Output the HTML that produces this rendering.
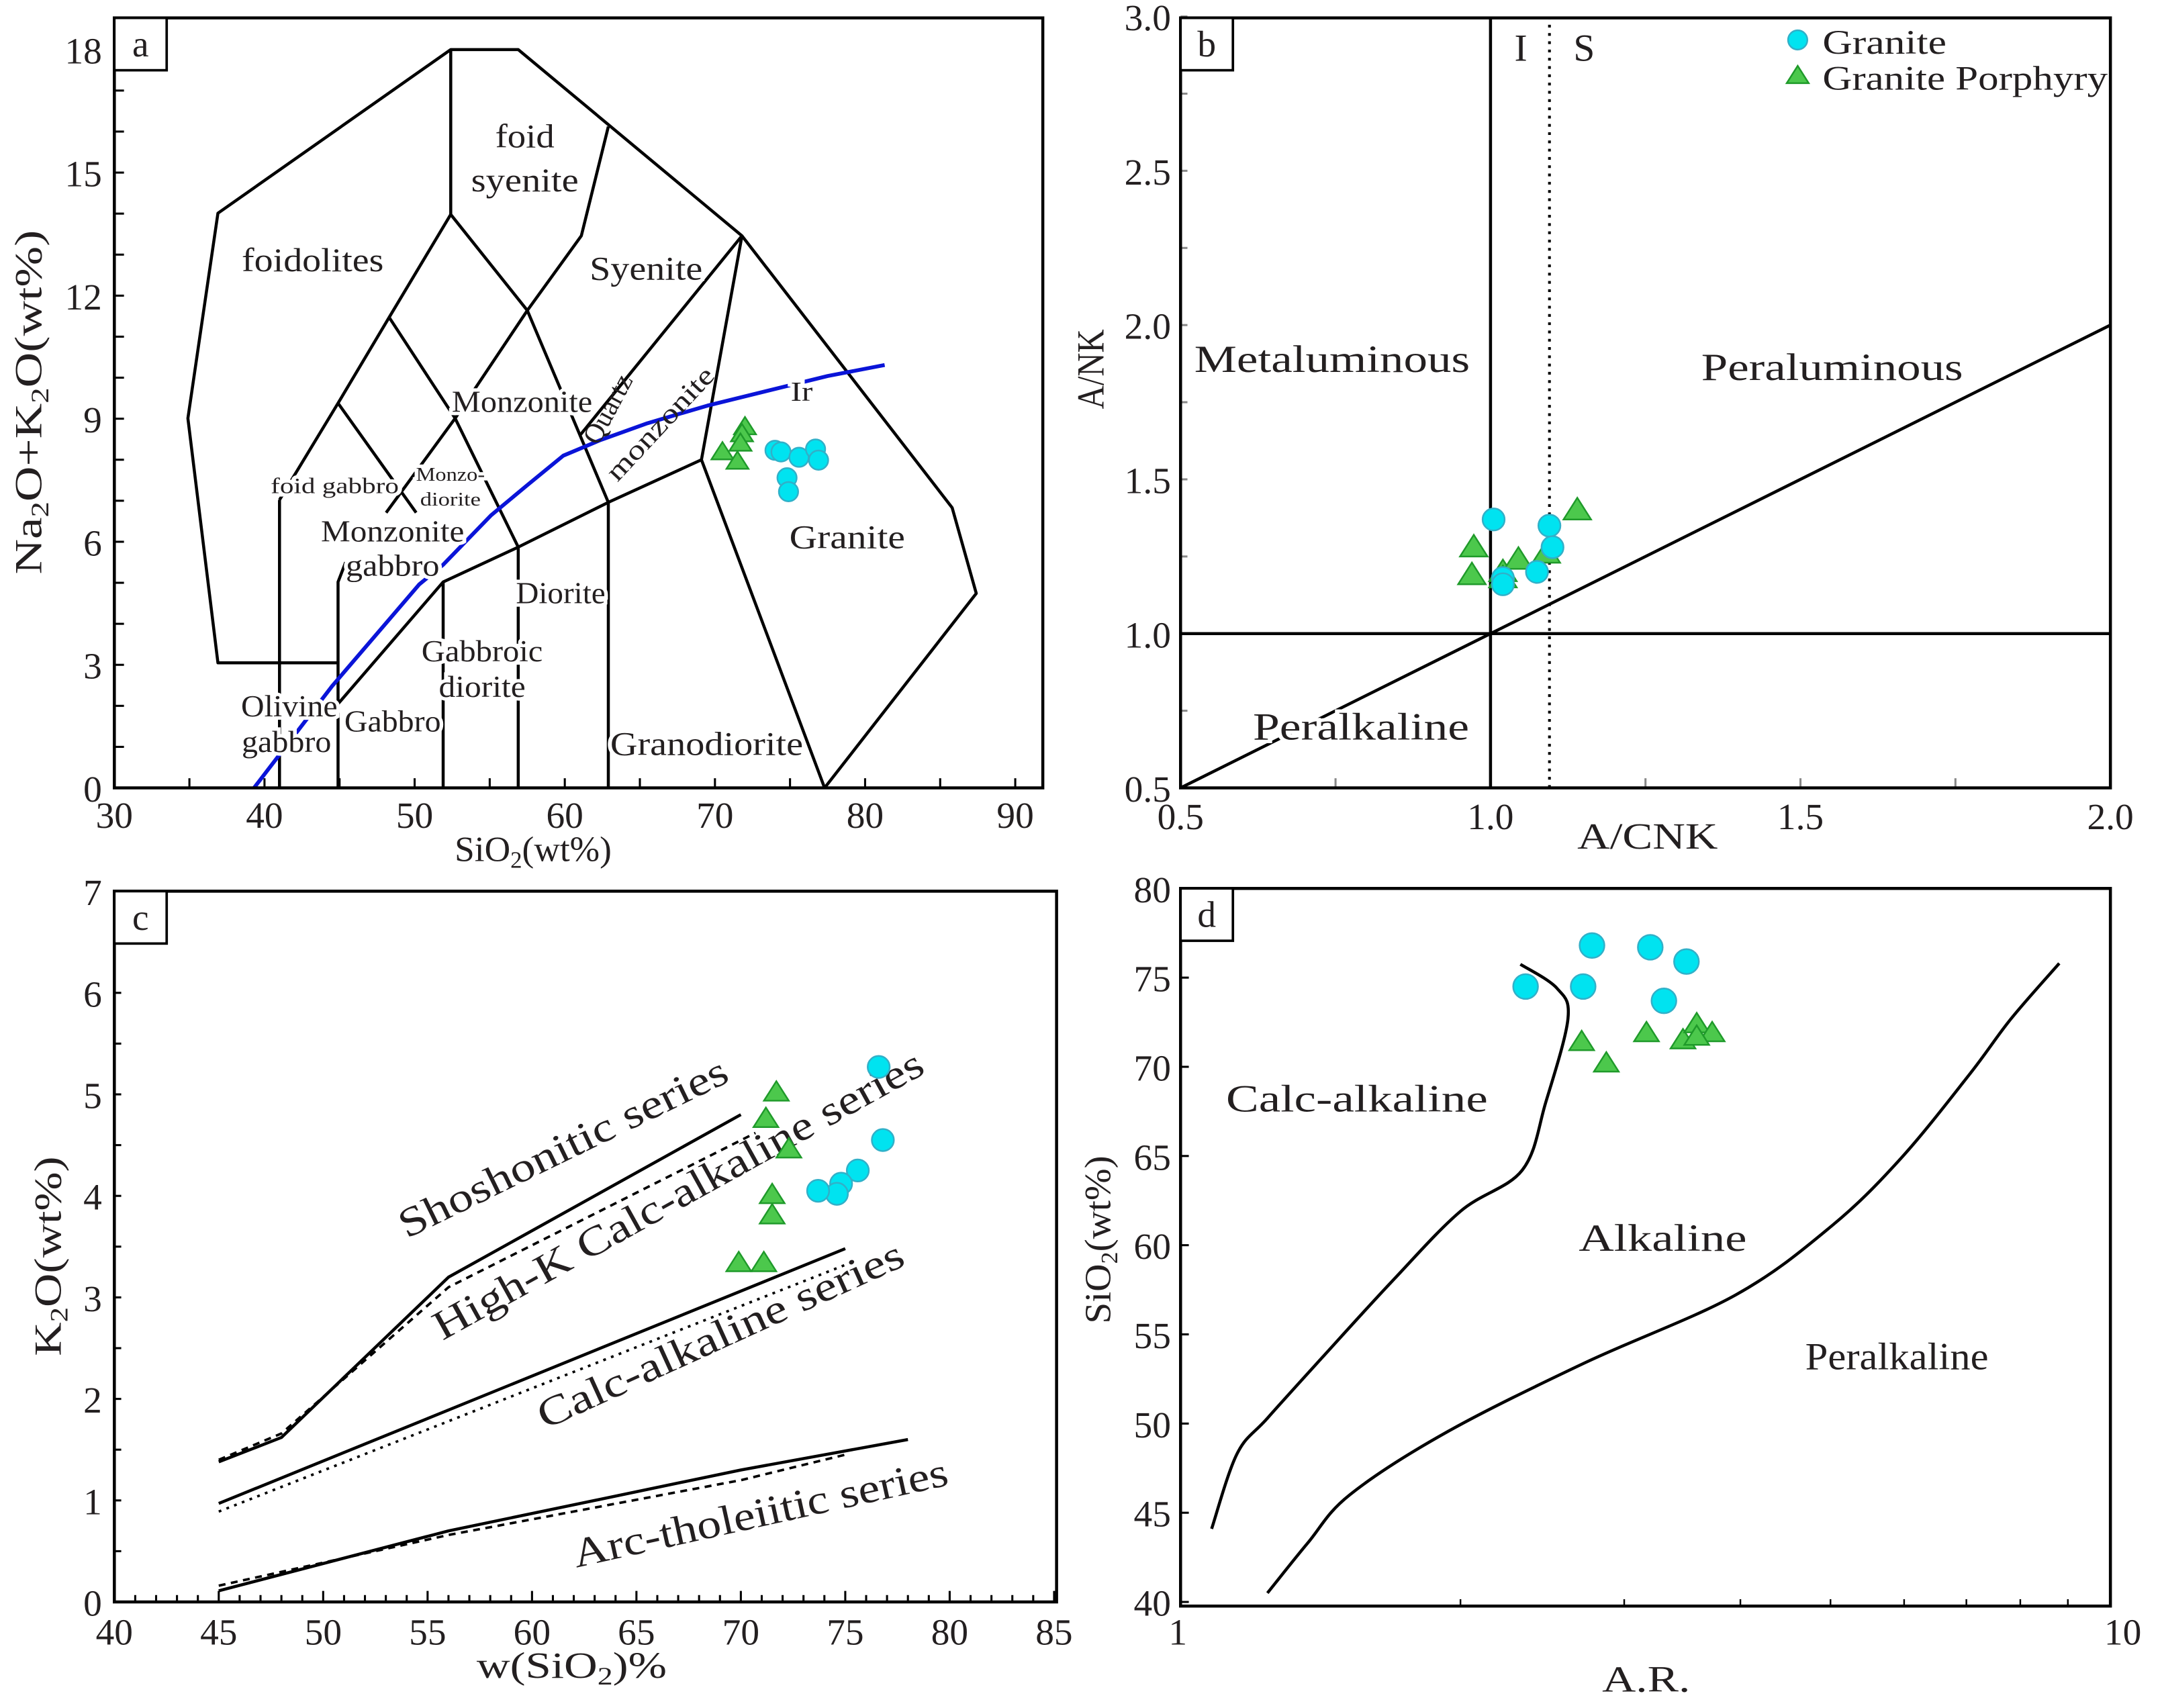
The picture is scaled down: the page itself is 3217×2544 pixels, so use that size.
<!DOCTYPE html>
<html><head><meta charset="utf-8"><title>Geochemical diagrams</title>
<style>
html,body{margin:0;padding:0;background:#fff;}
svg{display:block;}
text{font-family:"Liberation Serif",serif;fill:#231f20;}
</style></head>
<body>
<svg id="fig" xmlns="http://www.w3.org/2000/svg" width="3217" height="2544" viewBox="0 0 1568 1240" preserveAspectRatio="none">
<rect width="1568" height="1240" fill="#fff"/>
</svg>
<script>
// ---------- DATA ----------
// Panel a (TAS): SiO2 vs Na2O+K2O
const aGraniteSi = [74.0, 74.4, 75.6, 76.7, 76.9, 74.8, 74.9];
const aGraniteAlk = [8.23, 8.19, 8.06, 8.26, 7.99, 7.56, 7.22];
const aPorphSi = [72.0, 71.8, 71.7, 70.5, 71.5];
const aPorphAlk = [8.8, 8.63, 8.4, 8.19, 7.96];
const aXTicks = [30, 40, 50, 60, 70, 80, 90];
const aYTicks = [0, 3, 6, 9, 12, 15, 18];
// Panel b: A/CNK vs A/NK
const bGraniteACNK = [1.005, 1.095, 1.10, 1.075, 1.02, 1.02];
const bGraniteANK = [1.37, 1.35, 1.28, 1.20, 1.18, 1.16];
const bPorphACNK = [0.973, 0.97, 1.02, 1.045, 1.09, 1.14, 1.02];
const bPorphANK = [1.28, 1.19, 1.20, 1.24, 1.26, 1.40, 1.18];
const bXTicks = ["0.5", "1.0", "1.5", "2.0"];
const bYTicks = ["0.5", "1.0", "1.5", "2.0", "2.5", "3.0"];
// Panel c: SiO2 vs K2O
const cGraniteSi = [76.6, 76.8, 75.6, 74.8, 74.6, 73.7];
const cGraniteK = [5.27, 4.55, 4.25, 4.12, 4.02, 4.05];
const cPorphSi = [71.7, 71.2, 72.3, 71.5, 71.5, 69.9, 71.1];
const cPorphK = [5.02, 4.76, 4.46, 4.01, 3.81, 3.34, 3.34];
const cXTicks = [40, 45, 50, 55, 60, 65, 70, 75, 80, 85];
const cYTicks = [0, 1, 2, 3, 4, 5, 6, 7];
// Panel d: A.R. vs SiO2
const dGraniteAR = [2.35, 2.77, 3.2, 3.5, 2.71, 3.31];
const dGraniteSi = [74.5, 76.8, 76.7, 75.9, 74.5, 73.7];
const dPorphAR = [2.70, 2.87, 3.17, 3.47, 3.59, 3.73, 3.59];
const dPorphSi = [71.4, 70.2, 71.9, 71.5, 72.4, 71.9, 71.7];
const dYTicks = [40, 45, 50, 55, 60, 65, 70, 75, 80];

// ---------- helpers ----------
const NS = "http://www.w3.org/2000/svg";
const svg = document.getElementById("fig");
function el(tag, attrs, parent) {
  const e = document.createElementNS(NS, tag);
  for (const k in attrs) e.setAttribute(k, attrs[k]);
  (parent || svg).appendChild(e);
  return e;
}
function txt(s, x, y, size, extra, parent) {
  const t = el("text", Object.assign({x: x, y: y, "font-size": size}, extra || {}), parent);
  t.textContent = s;
  return t;
}
function tl(w) { return {textLength: w, lengthAdjust: "spacingAndGlyphs"}; }
function poly(pts, sx, sy, style, parent) {
  const d = pts.map(p => sx(p[0]).toFixed(1) + "," + sy(p[1]).toFixed(1)).join(" ");
  return el("polyline", Object.assign({points: d, fill: "none", stroke: "#000", "stroke-width": 2.2, "stroke-linejoin": "round"}, style || {}), parent);
}
function circleMark(x, y, r, parent) {
  return el("circle", {cx: x, cy: y, r: r, fill: "#00e3f0", stroke: "#31b0c8", "stroke-width": 1.2}, parent);
}
function triMark(x, y, s, parent) {
  const h = s * 0.9;
  return el("polygon", {points: `${x},${y - h} ${x - s},${y + h * 0.75} ${x + s},${y + h * 0.75}`, fill: "#4cc84c", stroke: "#1f9a2a", "stroke-width": 1.2}, parent);
}
function frame(x0, y0, x1, y1, label, parent) {
  el("rect", {x: x0, y: y0, width: x1 - x0, height: y1 - y0, fill: "none", stroke: "#000", "stroke-width": 2.2}, parent);
  el("rect", {x: x0, y: y0, width: 38, height: 38, fill: "#fff", stroke: "#000", "stroke-width": 1.8}, parent);
  txt(label, x0 + 19, y0 + 28, 27, {"text-anchor": "middle"}, parent);
}
const halo = {stroke: "#fff", "stroke-width": 5, "paint-order": "stroke"};

// ================= PANEL A =================
(function () {
  const g = el("g", {});
  
  
  const sx = v => 83 + (v - 30) * 10.9;
  const sy = v => 572 - v * 29.78;
  for (let v = 30; v <= 90; v += 5) el("line", {x1: sx(v), y1: 572, x2: sx(v), y2: 565, stroke: "#000", "stroke-width": 1.5}, g);
  for (let v = 0; v <= 18; v += 1) el("line", {x1: 83, y1: sy(v), x2: 90, y2: sy(v), stroke: "#000", "stroke-width": 1.5}, g);
  const tas = [
    [[44.9,3.05],[36.9,3.05],[34.9,9.01],[36.9,14.01],[52.4,18.0],[56.9,18.0],[71.8,13.46],[85.8,6.83],[87.4,4.74],[77.3,0]],
    [[52.4,18.0],[52.4,13.98],[57.5,11.64],[61.1,13.46],[62.9,16.12]],
    [[52.4,13.98],[48.3,11.47],[44.9,9.38],[41.0,7.02]],
    [[41.0,0],[41.0,7.02]],
    [[48.3,11.47],[52.7,9.01],[56.9,5.87]],
    [[57.5,11.64],[52.7,9.01],[48.1,6.71]],
    [[44.9,9.38],[50.1,6.71]],
    [[57.5,11.64],[62.9,6.96]],
    [[71.8,13.46],[61.0,8.59]],
    [[71.8,13.46],[69.1,8.0],[77.3,0]],
    [[44.9,2.05],[51.9,5.02],[56.9,5.87],[62.9,6.96],[69.1,8.0]],
    [[44.9,0],[44.9,5.02],[45.4,5.5]],
    [[51.9,0],[51.9,5.02]],
    [[56.9,0],[56.9,5.87]],
    [[62.9,0],[62.9,6.96]]
  ];
  tas.forEach(p => {
    const l = poly(p, sx, sy, {}, g);
    
    
  });
  const blue = [[39.3,0],[44.5,2.48],[50.3,4.96],[51.9,5.44],[55.1,6.65],[57.5,7.38],[59.9,8.1],[62.3,8.47],[65.5,8.89],[69.5,9.32],[73.5,9.68],[77.5,10.04],[81.3,10.31]];
  const bl = poly(blue, sx, sy, {stroke: "#0a14d8", "stroke-width": 2.8}, g);
  
  
  const L = [["foidolites",227,197,24,103],["foid",381,107,24,43],["syenite",381,139,24,78],["Syenite",469,203,24,82],["Monzonite",379,299,22,102],["Ir",582,291,20,16],
    ["foid gabbro",243,358,16,93],["Monzo-",327,349,14,50],["diorite",327,367,14,44],["Monzonite",285,393,22,104],["gabbro",285,418,22,68],["Diorite",407,438,22,65],
    ["Gabbroic",350,480,22,88],["diorite",350,506,22,63],["Olivine",210,520,22,70],["gabbro",208,546,22,65],["Gabbro",285,531,22,70],["Granodiorite",513,548,24,140],["Granite",615,398,24,84]];
  L.forEach(a => { const t = txt(a[0], a[1], a[2], a[3], Object.assign({"text-anchor": "middle"}, halo, tl(a[4])), g);
      });
  let t = txt("Quartz", 0, 0, 20, {"text-anchor": "middle", transform: "translate(447,300) rotate(-62)"}, g);
   
  t = txt("monzonite", 0, 0, 20, Object.assign({"text-anchor": "middle", transform: "translate(484,312) rotate(-47)"}, tl(105)), g);
   
  aPorphSi.forEach((v, i) => { const m = triMark(sx(v), sy(aPorphAlk[i]), 8, g);
      });
  aGraniteSi.forEach((v, i) => { const m = circleMark(sx(v), sy(aGraniteAlk[i]), 7, g);
      });
  frame(83, 13, 757, 572, "a", g);
  aXTicks.forEach(v => { const t = txt(String(v), sx(v), 601, 27, {"text-anchor": "middle"}, g);
      });
  aYTicks.forEach(v => { const t = txt(String(v), 74, sy(v) + 10, 27, {"text-anchor": "end"}, g);
      });
  const xt = el("text", {x: 387, y: 625, "font-size": 26, "text-anchor": "middle"}, g);
  xt.innerHTML = 'SiO<tspan font-size="17" dy="5">2</tspan><tspan dy="-5">(wt%)</tspan>';
   
  const yt = el("text", {x: 0, y: 0, "font-size": 28, "text-anchor": "middle", transform: "translate(30,292) rotate(-90)", textLength: 250, lengthAdjust: "spacingAndGlyphs"}, g);
  yt.innerHTML = 'Na<tspan font-size="18" dy="5">2</tspan><tspan dy="-5">O+K</tspan><tspan font-size="18" dy="5">2</tspan><tspan dy="-5">O(wt%)</tspan>';
   
})();

// ================= PANEL B =================
(function () {
  const g = el("g", {});
  
  
  const sx = v => 857 + (v - 0.5) * 450;
  const sy = v => 572 - (v - 0.5) * 224;
  for (let v = 0.5; v <= 2.001; v += 0.25) el("line", {x1: sx(v), y1: 572, x2: sx(v), y2: 565, stroke: "#888", "stroke-width": 1.5}, g);
  for (let v = 0.5; v <= 3.001; v += 0.25) el("line", {x1: 857, y1: sy(v), x2: 862, y2: sy(v), stroke: "#888", "stroke-width": 1.5}, g);
  let l = poly([[1, 0.5], [1, 3.0]], sx, sy, {}, g);  
  l = poly([[0.5, 1], [2.0, 1]], sx, sy, {}, g);  
  l = poly([[0.5, 0.5], [2.0, 2.0]], sx, sy, {}, g);  
  l = poly([[1.095, 0.5], [1.095, 3.0]], sx, sy, {"stroke-dasharray": "2,4", "stroke-width": 2}, g);  
  [["I",1104,44],["S",1150,44]].forEach(a => { const t = txt(a[0], a[1], a[2], 28, {"text-anchor": "middle"}, g);
      });
  [["Metaluminous",967,270,200],["Peraluminous",1330,276,190],["Peralkaline",988,537,157]].forEach(a => { const t = txt(a[0], a[1], a[2], 28, Object.assign({"text-anchor": "middle"}, halo, tl(a[3])), g);
      });
  bPorphACNK.forEach((v, i) => { const m = triMark(sx(v), sy(bPorphANK[i]), 10, g);
      });
  bGraniteACNK.forEach((v, i) => { const m = circleMark(sx(v), sy(bGraniteANK[i]), 8, g);
      });
  frame(857, 13, 1532, 572, "b", g);
  const lg = el("g", {}, g);
   
  let m = circleMark(1305, 29, 7, lg);  
  let t = txt("Granite", 1323, 39, 25, tl(90), lg);  
  m = triMark(1305, 55, 8, lg);  
  t = txt("Granite Porphyry", 1323, 65, 25, tl(207), lg);  
  bXTicks.forEach(s => { const t = txt(s, sx(parseFloat(s)), 602, 27, {"text-anchor": "middle"}, g);
      });
  bYTicks.forEach(s => { const t = txt(s, 850, sy(parseFloat(s)) + 10, 27, {"text-anchor": "end"}, g);
      });
  t = txt("A/CNK", 1196, 616, 27, Object.assign({"text-anchor": "middle"}, tl(102)), g);  
  t = txt("A/NK", 0, 0, 28, Object.assign({"text-anchor": "middle", transform: "translate(801,268) rotate(-90)"}, tl(58)), g);  
})();

// ================= PANEL C =================
(function () {
  const g = el("g", {});
  
  
  const sx = v => 83 + (v - 40) * 15.16;
  const sy = v => 1163 - v * 73.7;
  for (let v = 40; v <= 85; v += 1) el("line", {x1: sx(v), y1: 1163, x2: sx(v), y2: v % 5 ? 1158 : 1155, stroke: "#000", "stroke-width": 1.5}, g);
  for (let v = 0; v <= 7; v += 0.5) el("line", {x1: 83, y1: sy(v), x2: 88, y2: sy(v), stroke: "#000", "stroke-width": 1.5}, g);
  const solid = [[[45,1.38],[48,1.62],[56,3.2],[70,4.8]], [[45,0.97],[75,3.48]], [[45,0.11],[56,0.7],[70,1.3],[78,1.6]]];
  const dashed = [[[45,1.4],[48,1.66],[56,3.1],[70.7,4.62]], [[45,0.89],[56,1.78],[75,3.32]], [[45,0.16],[56,0.66],[70,1.2],[75,1.45]]];
  solid.forEach(p => { const l = poly(p, sx, sy, {}, g);   });
  dashed.forEach((p, i) => { const l = poly(p, sx, sy, {"stroke-dasharray": i === 1 ? "2,4" : "5,4", "stroke-width": 1.8}, g);
      });
  [["Shoshonitic  series",413,842,-26,262],["High-K  Calc-alkaline series",497,876,-29,402],["Calc-alkaline  series",527,978,-24.5,289],["Arc-tholeiitic series",554,1108,-12.5,278]]
    .forEach(a => { const t = txt(a[0], 0, 0, 30, Object.assign({"text-anchor": "middle", transform: `translate(${a[1]},${a[2]}) rotate(${a[3]})`}, tl(a[4])), g);
        });
  cPorphSi.forEach((v, i) => { const m = triMark(sx(v), sy(cPorphK[i]), 9, g);
      });
  cGraniteSi.forEach((v, i) => { const m = circleMark(sx(v), sy(cGraniteK[i]), 8, g);
      });
  frame(83, 647, 767, 1163, "c", g);
  cXTicks.forEach(v => { const t = txt(String(v), sx(v), 1194, 27, {"text-anchor": "middle"}, g);
      });
  cYTicks.forEach(v => { const t = txt(String(v), 74, sy(v) + 10, 27, {"text-anchor": "end"}, g);
      });
  const xt = el("text", {x: 415, y: 1218, "font-size": 27, "text-anchor": "middle", textLength: 138, lengthAdjust: "spacingAndGlyphs"}, g);
  xt.innerHTML = 'w(SiO<tspan font-size="18" dy="5">2</tspan><tspan dy="-5">)%</tspan>';
   
  const yt = el("text", {x: 0, y: 0, "font-size": 28, "text-anchor": "middle", transform: "translate(44,912) rotate(-90)", textLength: 145, lengthAdjust: "spacingAndGlyphs"}, g);
  yt.innerHTML = 'K<tspan font-size="18" dy="5">2</tspan><tspan dy="-5">O(wt%)</tspan>';
   
})();

// ================= PANEL D =================
(function () {
  const g = el("g", {});
  
  
  const sx = v => 857 + Math.log10(v) * 675;
  const sy = v => 1163 - (v - 40) * 12.95;
  for (let v = 2; v <= 9; v++) el("line", {x1: sx(v), y1: 1166, x2: sx(v), y2: 1161, stroke: "#000", "stroke-width": 1.2}, g);
  for (let v = 40; v <= 80; v += 5) el("line", {x1: 857, y1: sy(v), x2: 863, y2: sy(v), stroke: "#000", "stroke-width": 1.5}, g);
  const c1 = [[2.32,75.75],[2.54,74.4],[2.61,72.7],[2.47,68.0],[2.33,64.2],[2.0,61.9],[1.69,58.0],[1.42,53.7],[1.24,50.3],[1.15,48.3],[1.08,44.1]];
  const c2 = [[8.81,75.8],[7.82,72.7],[7.06,69.6],[5.96,64.9],[5.02,61.1],[3.95,57.2],[2.72,53.4],[1.93,49.5],[1.52,46.0],[1.37,43.3],[1.24,40.5]];
  [c1, c2].forEach(p => {
    const pts = p.map(q => [sx(q[0]), sy(q[1])]);
    let d = "M" + pts[0][0] + "," + pts[0][1];
    for (let i = 1; i < pts.length; i++) {
      const p0 = pts[i - 1], p1 = pts[i], pm = pts[i - 2] || p0, pn = pts[i + 1] || p1;
      d += ` C${p0[0] + (p1[0] - pm[0]) / 6},${p0[1] + (p1[1] - pm[1]) / 6} ${p1[0] - (pn[0] - p0[0]) / 6},${p1[1] - (pn[1] - p0[1]) / 6} ${p1[0]},${p1[1]}`;
    }
    const l = el("path", {d: d, fill: "none", stroke: "#000", "stroke-width": 2.2}, g);
     
  });
  [["Calc-alkaline",985,807,190],["Alkaline",1207,908,122],["Peralkaline",1377,994,133]].forEach(a => { const t = txt(a[0], a[1], a[2], 28, Object.assign({"text-anchor": "middle"}, tl(a[3])), g);
      });
  dPorphAR.forEach((v, i) => { const m = triMark(sx(v), sy(dPorphSi[i]), 9, g);
      });
  dGraniteAR.forEach((v, i) => { const m = circleMark(sx(v), sy(dGraniteSi[i]), 9, g);
      });
  frame(857, 645, 1532, 1166, "d", g);
  let t = txt("1", 855, 1194, 27, {"text-anchor": "middle"}, g);  
  t = txt("10", 1541, 1194, 27, {"text-anchor": "middle"}, g);  
  dYTicks.forEach(v => { const t = txt(String(v), 850, sy(v) + 10, 27, {"text-anchor": "end"}, g);
      });
  t = txt("A.R.", 1195, 1228, 27, Object.assign({"text-anchor": "middle"}, tl(64)), g);  
  const yt = el("text", {x: 0, y: 0, "font-size": 27, "text-anchor": "middle", transform: "translate(806,900) rotate(-90)", textLength: 122, lengthAdjust: "spacingAndGlyphs"}, g);
  yt.innerHTML = 'SiO<tspan font-size="17" dy="5">2</tspan><tspan dy="-5">(wt%)</tspan>';
   
})();
</script>
</body></html>
